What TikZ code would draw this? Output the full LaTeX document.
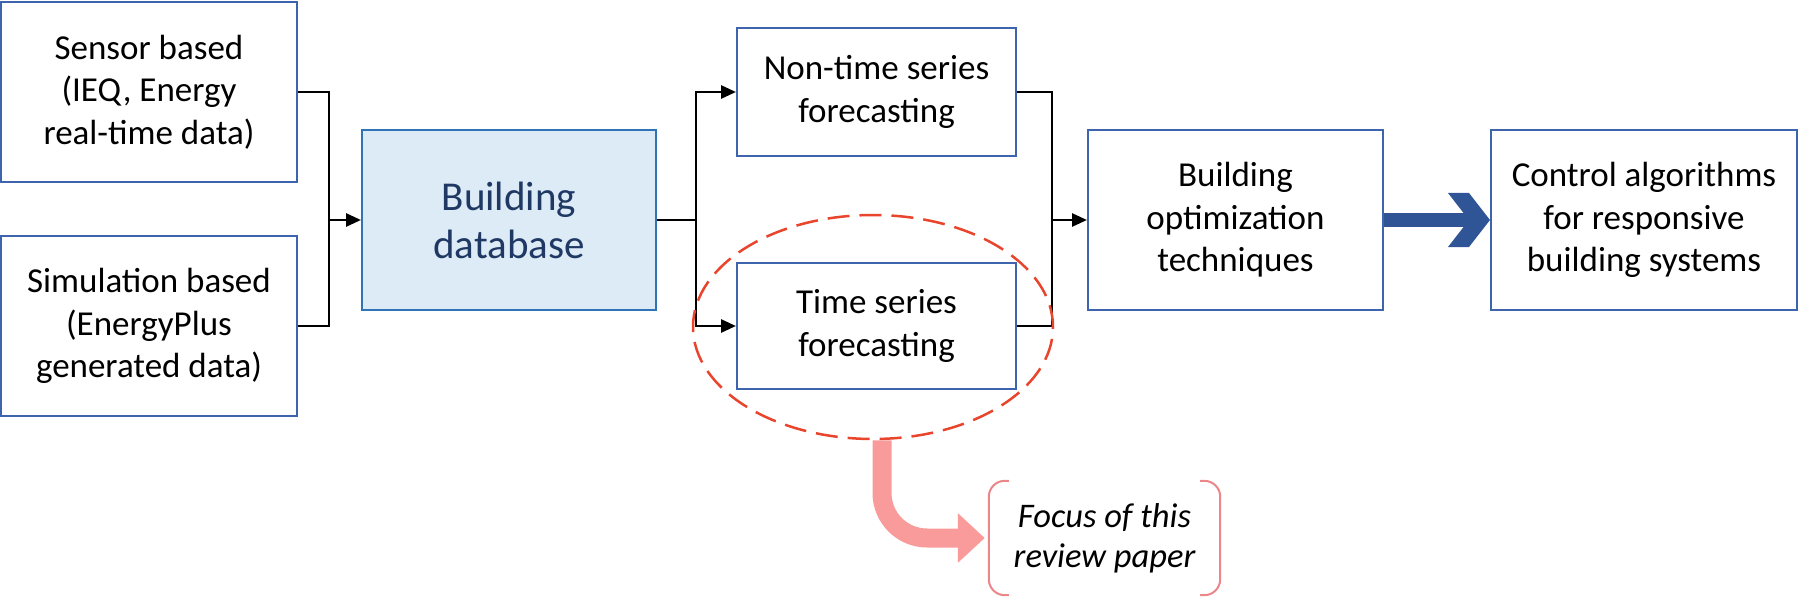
\documentclass[tikz,border=0pt]{standalone}
\usepackage{fontspec}
\setmainfont{Carlito}
\usetikzlibrary{arrows.meta,shapes.geometric}
\definecolor{boxblue}{HTML}{3D64AC}
\definecolor{dbfill}{HTML}{DDEBF7}
\definecolor{dbtext}{HTML}{1F3864}
\definecolor{dbborder}{HTML}{2E75B6}
\definecolor{ringred}{HTML}{E8452C}
\definecolor{pinkarrow}{HTML}{F99B9B}
\definecolor{bracketpink}{HTML}{EC8689}
\definecolor{arrowblue}{HTML}{2F5597}
\begin{document}
\begin{tikzpicture}[x=1pt,y=-1pt,
  box/.style={draw=boxblue,line width=2pt,fill=white,align=center,inner sep=0pt,
    font=\fontsize{35}{42.5}\selectfont},
  conn/.style={line width=2.7pt,black},
  arrowconn/.style={-{Triangle[length=15pt,width=13pt]}},
  bracket/.style={draw=bracketpink,line width=2pt,rounded corners=16pt}]
\useasboundingbox (0,0) rectangle (1800,599);

\node[box,minimum width=296pt,minimum height=180pt] (sensor) at (149,92)
  {Sensor based\\(IEQ, Energy\\real-time data)};
\node[box,minimum width=296pt,minimum height=180pt] (sim) at (149,326)
  {Simulation based\\(EnergyPlus\\generated data)};
\node[box,draw=dbborder,fill=dbfill,text=dbtext,font=\fontsize{41}{48}\selectfont,
  minimum width=294pt,minimum height=179pt] (db) at (509,220) {Building\\database};
\node[box,minimum width=279pt,minimum height=128pt] (nts) at (876.5,92)
  {Non-time series\\forecasting};
\node[box,minimum width=279pt,minimum height=126pt] (ts) at (876.5,326)
  {Time series\\forecasting};
\node[box,minimum width=295pt,minimum height=179pt] (opt) at (1235.5,220)
  {Building\\optimization\\techniques};
\node[box,minimum width=306pt,minimum height=179pt] (ctrl) at (1644,220)
  {Control algorithms\\for responsive\\building systems};

\coordinate (j1) at (329,220);
\coordinate (j2) at (696,220);
\coordinate (j3) at (1052,220);

\draw[conn] (sensor.east) -| (j1) |- (sim.east);
\draw[conn,arrowconn] (j1) -- (db.west);
\draw[conn] (db.east) -- (j2);
\draw[conn,arrowconn] (j2) |- (nts.west);
\draw[conn,arrowconn] (j2) |- (ts.west);
\draw[conn] (nts.east) -| (j3) |- (ts.east);
\draw[conn,arrowconn] (j3) -- (opt.west);

\fill[arrowblue] ([yshift=7pt]opt.east) rectangle ++(90,14);
\fill[arrowblue] (ctrl.west) -- ++(-21,-27) -- ++(-21,0) -- ++(21,27)
  -- ++(-21,27) -- ++(21,0) -- cycle;

\node[draw=ringred,line width=2.5pt,dash pattern=on 22pt off 10pt,ellipse,
  minimum width=360pt,minimum height=224pt,inner sep=0pt] (ring) at (873,327) {};

\node[font=\itshape\fontsize{34.5}{40}\selectfont,align=center,minimum width=231pt,
  minimum height=114pt,inner sep=0pt] (focus) at (1104.5,538)
  {Focus of this\\review paper};
\draw[bracket] ([xshift=20pt]focus.north west) -- (focus.north west)
  -- (focus.south west) -- ([xshift=20pt]focus.south west);
\draw[bracket] ([xshift=-20pt]focus.north east) -- (focus.north east)
  -- (focus.south east) -- ([xshift=-20pt]focus.south east);

\draw[pinkarrow,line width=19pt,rounded corners=45pt,
  -{Triangle[length=27pt,width=48pt]}]
  ([xshift=9pt]ring.south) |- ([xshift=-4pt]focus.west);
\end{tikzpicture}
\end{document}
